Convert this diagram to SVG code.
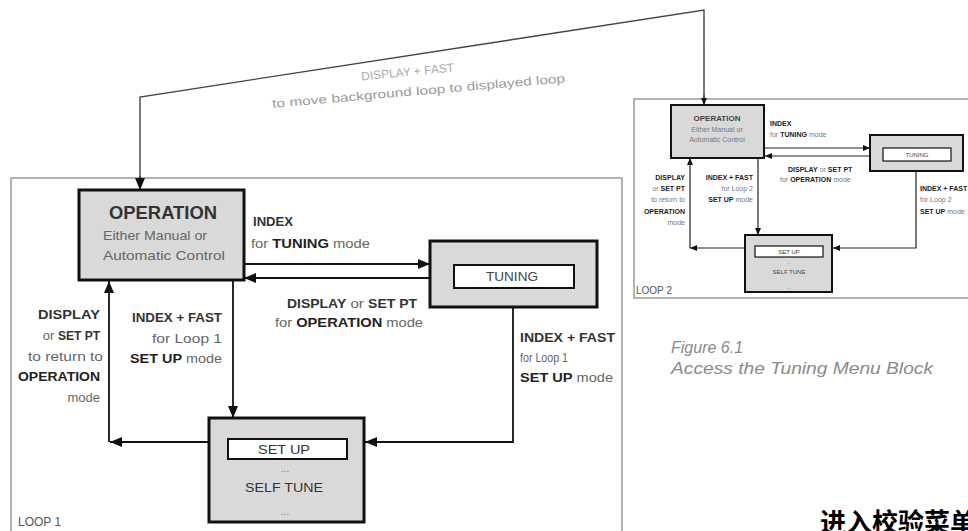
<svg xmlns="http://www.w3.org/2000/svg" width="968" height="531" viewBox="0 0 968 531">
<style>
text{font-family:"Liberation Sans Narrow","Liberation Sans",Arial,sans-serif;}
.t{font-size:13px;fill:#666;}
.b{font-weight:bold;fill:#222;}
.k{font-size:12px;font-weight:bold;fill:#333;}
.box{fill:#d9d9d9;stroke:#111;stroke-width:3;}
.inner{fill:#fff;stroke:#111;stroke-width:2;}
.frame{fill:none;stroke:#9a9a9a;stroke-width:1.5;}
.ln{fill:none;stroke:#111;stroke-width:1.8;}
.ln2{fill:none;stroke:#222;stroke-width:1.2;}
.top{fill:none;stroke:#444;stroke-width:1.4;}
.s{font-size:7px;fill:#777;}
.sb{font-size:7px;font-weight:bold;fill:#222;}
.cap{font-family:"Liberation Sans",Arial,sans-serif;font-style:italic;font-size:16px;fill:#8a8a8a;}
.gray{fill:#aaa;font-size:12px;}
</style>
<defs>
<marker id="ah" markerUnits="userSpaceOnUse" markerWidth="12" markerHeight="10" refX="12" refY="5" orient="auto">
<path d="M0,0 L12,5 L0,10 z" fill="#111"/>
</marker>
<marker id="as" markerUnits="userSpaceOnUse" markerWidth="7" markerHeight="6" refX="7" refY="3" orient="auto">
<path d="M0,0 L7,3 L0,6 z" fill="#111"/>
</marker>
</defs>
<rect width="968" height="531" fill="#fff"/>

<!-- frames -->
<g id="loop1-frame">
<rect class="frame" x="11" y="178" width="611" height="370"/>
<text x="18" y="526" style="font-size:12px;fill:#555;">LOOP 1</text>
</g>
<g id="loop2-frame">
<rect class="frame" x="634" y="99" width="400" height="199"/>
<text x="636" y="294" style="font-size:10px;fill:#555;">LOOP 2</text>
</g>

<!-- connectors -->
<g id="connectors">
<path class="top" d="M140,180 L140,97 L704,10 L704,98"/>
<line class="top" x1="140" y1="176" x2="140" y2="190" marker-end="url(#ah)"/>
<line class="top" x1="704" y1="95" x2="704" y2="105" marker-end="url(#as)"/>
<line class="ln" x1="244" y1="264" x2="430" y2="264" marker-end="url(#ah)"/>
<line class="ln" x1="430" y1="278" x2="244" y2="278" marker-end="url(#ah)"/>
<line class="ln" x1="233" y1="280" x2="233" y2="418" marker-end="url(#ah)"/>
<line class="ln" x1="209" y1="442" x2="110" y2="442" marker-end="url(#ah)"/>
<line class="ln" x1="109" y1="442" x2="109" y2="281" marker-end="url(#ah)"/>
<path class="ln" d="M513,307 L513,442 L365,442" marker-end="url(#ah)"/>

<line class="ln2" x1="764" y1="148" x2="870" y2="148" marker-end="url(#as)"/>
<line class="ln2" x1="870" y1="156" x2="765" y2="156" marker-end="url(#as)"/>
<line class="ln2" x1="758" y1="158" x2="758" y2="235" marker-end="url(#as)"/>
<line class="ln2" x1="745" y1="248" x2="690" y2="248" marker-end="url(#as)"/>
<line class="ln2" x1="690" y1="248" x2="690" y2="158" marker-end="url(#as)"/>
<path class="ln2" d="M916,171 L916,248 L833,248" marker-end="url(#as)"/>
</g>

<!-- top label -->
<g id="move-label">
<text class="gray" x="408" y="76" text-anchor="middle" transform="rotate(-5.5 408 76)">DISPLAY + FAST</text>
<text class="gray" x="419" y="95" text-anchor="middle" textLength="294" lengthAdjust="spacingAndGlyphs" transform="rotate(-5 419 95)" style="fill:#999;">to move background loop to displayed loop</text>
</g>

<!-- Loop 1 nodes -->
<g id="operation1">
<rect class="box" x="79" y="190" width="165" height="90"/>
<text x="163" y="219" text-anchor="middle" textLength="108" lengthAdjust="spacingAndGlyphs" style="font-size:19px;font-weight:bold;fill:#333;">OPERATION</text>
<text class="t" x="155" y="240" text-anchor="middle" textLength="104" lengthAdjust="spacingAndGlyphs">Either Manual  or</text>
<text class="t" x="164" y="260" text-anchor="middle" textLength="122" lengthAdjust="spacingAndGlyphs">Automatic Control</text>
</g>
<g id="tuning1">
<rect class="box" x="430" y="241" width="167" height="66"/>
<rect class="inner" x="454" y="265" width="120" height="23"/>
<text class="t" x="512" y="281" text-anchor="middle" textLength="52" lengthAdjust="spacingAndGlyphs" style="fill:#444;">TUNING</text>
</g>
<g id="setup1">
<rect class="box" x="209" y="418" width="155" height="104"/>
<rect class="inner" x="228" y="439" width="119" height="20"/>
<text class="t" x="284" y="454" text-anchor="middle" textLength="52" lengthAdjust="spacingAndGlyphs" style="fill:#333;">SET UP</text>
<text class="t" x="285" y="472" text-anchor="middle" style="fill:#777;font-size:10px;">...</text>
<text class="t" x="284" y="492" text-anchor="middle" textLength="78" lengthAdjust="spacingAndGlyphs" style="fill:#333;">SELF TUNE</text>
<text class="t" x="285" y="515" text-anchor="middle" style="fill:#777;font-size:10px;">...</text>
</g>

<!-- Loop 1 labels -->
<g id="labels1">
<text class="k" x="253" y="226" textLength="40" lengthAdjust="spacingAndGlyphs">INDEX</text>
<text class="t" x="251" y="248" textLength="119" lengthAdjust="spacingAndGlyphs">for <tspan class="b">TUNING</tspan> mode</text>
<text class="t" x="287" y="308" textLength="130" lengthAdjust="spacingAndGlyphs"><tspan class="k">DISPLAY</tspan> or <tspan class="k">SET PT</tspan></text>
<text class="t" x="275" y="327" textLength="148" lengthAdjust="spacingAndGlyphs">for <tspan class="b">OPERATION</tspan> mode</text>

<text class="k" x="100" y="319" text-anchor="end" textLength="62" lengthAdjust="spacingAndGlyphs">DISPLAY</text>
<text class="t" x="100" y="340" text-anchor="end">or <tspan class="k">SET PT</tspan></text>
<text class="t" x="103" y="361" text-anchor="end" textLength="75" lengthAdjust="spacingAndGlyphs">to return to</text>
<text class="t b" x="100" y="381" text-anchor="end" textLength="82" lengthAdjust="spacingAndGlyphs">OPERATION</text>
<text class="t" x="100" y="402" text-anchor="end">mode</text>

<text class="k" x="222" y="322" text-anchor="end" textLength="90" lengthAdjust="spacingAndGlyphs">INDEX + FAST</text>
<text class="t" x="222" y="343" text-anchor="end" textLength="70" lengthAdjust="spacingAndGlyphs">for Loop 1</text>
<text class="t" x="222" y="363" text-anchor="end" textLength="92" lengthAdjust="spacingAndGlyphs"><tspan class="b">SET UP</tspan> mode</text>

<text class="k" x="520" y="342" textLength="95" lengthAdjust="spacingAndGlyphs">INDEX + FAST</text>
<text class="t" x="520" y="362" textLength="48" lengthAdjust="spacingAndGlyphs">for Loop 1</text>
<text class="t" x="520" y="382" textLength="93" lengthAdjust="spacingAndGlyphs"><tspan class="b">SET UP</tspan> mode</text>
</g>

<!-- Loop 2 nodes -->
<g id="operation2">
<rect class="box" x="671" y="105" width="93" height="53" style="stroke-width:2;"/>
<text x="717" y="121" text-anchor="middle" style="font-size:8px;font-weight:bold;fill:#444;">OPERATION</text>
<text class="s" x="717" y="132" text-anchor="middle">Either Manual or</text>
<text class="s" x="717" y="142" text-anchor="middle">Automatic Control</text>
</g>
<g id="tuning2">
<rect class="box" x="870" y="135" width="93" height="36" style="stroke-width:2;"/>
<rect class="inner" x="883" y="148" width="68" height="13" style="stroke-width:1.2;"/>
<text class="s" x="917" y="157" text-anchor="middle" style="fill:#444;font-size:6px;">TUNING</text>
</g>
<g id="setup2">
<rect class="box" x="745" y="235" width="87" height="57" style="stroke-width:2;"/>
<rect class="inner" x="755" y="246" width="68" height="11" style="stroke-width:1.2;"/>
<text class="s" x="789" y="254" text-anchor="middle" style="fill:#444;font-size:6px;">SET UP</text>
<text class="s" x="789" y="264" text-anchor="middle" style="font-size:5px;">...</text>
<text class="s" x="789" y="274" text-anchor="middle" style="fill:#444;font-size:6px;">SELF TUNE</text>
<text class="s" x="789" y="289" text-anchor="middle" style="font-size:5px;">...</text>
</g>

<!-- Loop 2 labels -->
<g id="labels2">
<text class="sb" x="770" y="126">INDEX</text>
<text class="s" x="770" y="137">for <tspan class="sb">TUNING</tspan> mode</text>
<text class="s" x="788" y="172"><tspan class="sb">DISPLAY</tspan> or <tspan class="sb">SET PT</tspan></text>
<text class="s" x="780" y="182">for <tspan class="sb">OPERATION</tspan> mode</text>

<text class="sb" x="685" y="180" text-anchor="end">DISPLAY</text>
<text class="s" x="685" y="191" text-anchor="end">or <tspan class="sb">SET PT</tspan></text>
<text class="s" x="685" y="202" text-anchor="end">to return to</text>
<text class="sb" x="685" y="214" text-anchor="end">OPERATION</text>
<text class="s" x="685" y="225" text-anchor="end">mode</text>

<text class="sb" x="753" y="180" text-anchor="end">INDEX + FAST</text>
<text class="s" x="753" y="191" text-anchor="end">for Loop 2</text>
<text class="s" x="753" y="202" text-anchor="end"><tspan class="sb">SET UP</tspan> mode</text>

<text class="sb" x="920" y="191">INDEX + FAST</text>
<text class="s" x="920" y="202">for Loop 2</text>
<text class="s" x="920" y="214"><tspan class="sb">SET UP</tspan> mode</text>
</g>

<!-- caption -->
<g id="caption">
<text class="cap" x="671" y="353">Figure 6.1</text>
<text class="cap" x="671" y="374" textLength="262" lengthAdjust="spacingAndGlyphs">Access the Tuning Menu Block</text>
</g>
<text x="820" y="532" style="font-family:'Noto Sans CJK SC',sans-serif;font-weight:bold;font-size:26px;fill:#000;">进入校验菜单</text>
</svg>
